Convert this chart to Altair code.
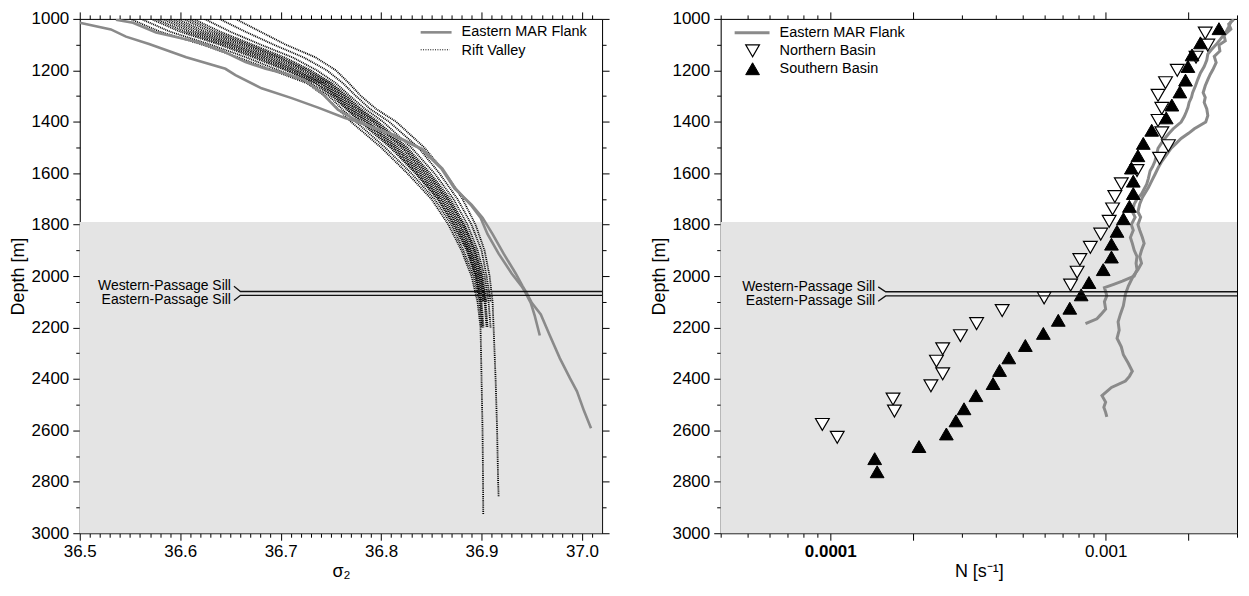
import json
import altair as alt
import pandas as pd

FONT = "Liberation Sans"
GRAY = "#8a8a8a"
SHADE = "#e4e4e4"

# ---------------- axes / ranges ----------------
depth_domain = [1000, 3000]
sigma_domain = [36.5, 37.02]
n_domain = [4e-5, 3e-3]
shade_top = 1790

depth_ticks = list(range(1000, 3001, 100))
sigma_major = [36.5, 36.6, 36.7, 36.8, 36.9, 37.0]
sigma_ticks = [round(36.5 + i * 0.01, 2) for i in range(52)]
n_ticks = [4e-5, 5e-5, 6e-5, 7e-5, 8e-5, 9e-5,
           1e-4, 2e-4, 3e-4, 4e-4, 5e-4, 6e-4, 7e-4, 8e-4, 9e-4,
           1e-3, 2e-3, 3e-3]
n_long = [0.0001, 0.0002, 0.001, 0.002]

# ---------------- left panel: sigma2 ----------------
flank_long_sigma = [36.500, 36.531, 36.546, 36.569, 36.606, 36.645, 36.655, 36.681, 36.711, 36.738,
                    36.764, 36.774, 36.790, 36.810, 36.840, 36.860, 36.873, 36.890, 36.901, 36.911,
                    36.922, 36.934, 36.941, 36.945, 36.950, 36.959, 36.968, 36.978, 36.988, 36.995,
                    37.002, 37.009]
flank_long_depth = [1015, 1041, 1069, 1098, 1149, 1194, 1219, 1270, 1308, 1346,
                    1385, 1397, 1420, 1448, 1506, 1582, 1659, 1722, 1773, 1837,
                    1913, 1990, 2040, 2066, 2104, 2149, 2231, 2320, 2397, 2448,
                    2524, 2592]
flank_short_sigma = [36.536, 36.553, 36.576, 36.599, 36.619, 36.632, 36.645, 36.665, 36.685, 36.705,
                     36.724, 36.741, 36.757, 36.771, 36.776, 36.791, 36.811, 36.841, 36.861, 36.874,
                     36.889, 36.899, 36.906, 36.917, 36.930, 36.940, 36.944, 36.949, 36.953, 36.958]
flank_short_depth = [1003, 1015, 1053, 1073, 1092, 1111, 1130, 1168, 1194, 1213,
                     1238, 1289, 1353, 1385, 1397, 1420, 1448, 1506, 1582, 1659,
                     1722, 1773, 1837, 1913, 1990, 2040, 2066, 2104, 2155, 2231]

rift_depth = [1000, 1050, 1100, 1150, 1200, 1250, 1300, 1350, 1400, 1500,
              1600, 1700, 1800, 1900, 2000, 2100, 2200]
rift_profiles = {
    "p0": [36.550, 36.580, 36.622, 36.658, 36.692, 36.726, 36.744, 36.757, 36.770, 36.800,
           36.826, 36.850, 36.867, 36.880, 36.890, 36.896, 36.899],
    "p1": [36.561, 36.590, 36.630, 36.666, 36.698, 36.730, 36.748, 36.761, 36.775, 36.804,
           36.830, 36.853, 36.870, 36.882, 36.892, 36.898, 36.900],
    "p2": [36.571, 36.600, 36.639, 36.673, 36.705, 36.734, 36.751, 36.765, 36.779, 36.809,
           36.834, 36.856, 36.872, 36.885, 36.894, 36.899],
    "p2b": [36.576, 36.605, 36.643, 36.677, 36.708, 36.736, 36.753, 36.766, 36.781, 36.811,
            36.835, 36.857, 36.873, 36.886, 36.894, 36.899, 36.901],
    "p3": [36.582, 36.610, 36.647, 36.681, 36.711, 36.739, 36.755, 36.768, 36.784, 36.813,
           36.837, 36.859, 36.875, 36.887, 36.895, 36.900, 36.902],
    "p3b": [36.587, 36.615, 36.651, 36.685, 36.714, 36.741, 36.756, 36.770, 36.786, 36.815,
            36.839, 36.860, 36.876, 36.888, 36.896, 36.901],
    "p4": [36.592, 36.620, 36.655, 36.689, 36.717, 36.743, 36.758, 36.772, 36.788, 36.817,
           36.841, 36.862, 36.878, 36.889, 36.897, 36.902],
    "p4b": [36.597, 36.625, 36.660, 36.693, 36.721, 36.745, 36.760, 36.774, 36.791, 36.820,
            36.843, 36.864, 36.879, 36.890, 36.898, 36.903, 36.905],
    "p5": [36.603, 36.630, 36.664, 36.697, 36.724, 36.747, 36.762, 36.776, 36.793, 36.822,
           36.845, 36.866, 36.881, 36.892, 36.899, 36.904, 36.906],
    "p5b": [36.608, 36.635, 36.668, 36.700, 36.727, 36.749, 36.764, 36.778, 36.795, 36.824,
            36.847, 36.867, 36.882, 36.893, 36.900, 36.904],
    "p6": [36.613, 36.640, 36.672, 36.704, 36.730, 36.751, 36.766, 36.780, 36.797, 36.826,
           36.849, 36.869, 36.883, 36.894, 36.901, 36.905],
    "p7": [36.624, 36.650, 36.680, 36.712, 36.736, 36.755, 36.769, 36.784, 36.802, 36.830,
           36.853, 36.872, 36.886, 36.896, 36.903, 36.907, 36.909],
    "p8": [36.639, 36.665, 36.693, 36.723, 36.746, 36.762, 36.775, 36.789, 36.808, 36.837,
           36.858, 36.876, 36.890, 36.900, 36.905, 36.909],
    "p9": [36.655, 36.680, 36.705, 36.735, 36.755, 36.768, 36.780, 36.795, 36.815, 36.843,
           36.864, 36.881, 36.894, 36.903, 36.908, 36.911, 36.912],
}
rift_tails = {
    "p0": ([2400, 2600, 2800, 2927], [36.900, 36.901, 36.9015, 36.9017]),
    "p9": ([2400, 2600, 2800, 2858], [36.914, 36.9155, 36.9165, 36.917]),
}

# ---------------- right panel: N ----------------
flank1_depth = [1008, 1030, 1050, 1070, 1100, 1120, 1137, 1160, 1185, 1210,
                1236, 1260, 1287, 1305, 1325, 1345, 1363, 1380, 1401, 1427,
                1445, 1465, 1485, 1503, 1530, 1554, 1575, 1592, 1620, 1643,
                1681, 1700, 1720, 1750, 1771, 1800, 1822, 1850, 1873, 1900,
                1924, 1950, 1975, 2000, 2020, 2032, 2045, 2060, 2077, 2100,
                2128, 2150, 2166, 2185]
flank1_n = [2.86e-3, 2.80e-3, 2.74e-3, 2.65e-3, 2.52e-3, 2.42e-3, 2.35e-3, 2.33e-3, 2.28e-3, 2.21e-3,
            2.16e-3, 2.12e-3, 2.07e-3, 2.05e-3, 2.01e-3, 1.99e-3, 1.96e-3, 1.93e-3, 1.88e-3, 1.76e-3,
            1.70e-3, 1.64e-3, 1.59e-3, 1.55e-3, 1.53e-3, 1.51e-3, 1.48e-3, 1.45e-3, 1.43e-3, 1.41e-3,
            1.35e-3, 1.30e-3, 1.27e-3, 1.25e-3, 1.28e-3, 1.24e-3, 1.26e-3, 1.23e-3, 1.25e-3, 1.27e-3,
            1.30e-3, 1.29e-3, 1.30e-3, 1.27e-3, 1.15e-3, 1.07e-3, 9.9e-4, 1.00e-3, 1.01e-3, 9.9e-4,
            1.00e-3, 9.6e-4, 9.3e-4, 8.45e-4]
flank2_depth = [1002, 1020, 1040, 1064, 1085, 1102, 1125, 1146, 1170, 1198,
                1215, 1236, 1260, 1287, 1305, 1325, 1350, 1376, 1401, 1427,
                1445, 1465, 1485, 1503, 1530, 1554, 1580, 1605, 1630, 1656,
                1694, 1720, 1750, 1771, 1800, 1822, 1850, 1873, 1900, 1924,
                1950, 1975, 2000, 2038, 2070, 2115, 2150, 2178, 2210, 2242,
                2275, 2306, 2340, 2370, 2390, 2408, 2433, 2465, 2490, 2510,
                2530, 2548]
flank2_n = [2.92e-3, 2.80e-3, 2.85e-3, 2.69e-3, 2.72e-3, 2.58e-3, 2.60e-3, 2.48e-3, 2.52e-3, 2.45e-3,
            2.40e-3, 2.35e-3, 2.30e-3, 2.26e-3, 2.30e-3, 2.28e-3, 2.33e-3, 2.35e-3, 2.31e-3, 2.10e-3,
            2.00e-3, 1.88e-3, 1.80e-3, 1.73e-3, 1.66e-3, 1.60e-3, 1.55e-3, 1.51e-3, 1.47e-3, 1.43e-3,
            1.36e-3, 1.33e-3, 1.31e-3, 1.34e-3, 1.31e-3, 1.33e-3, 1.36e-3, 1.38e-3, 1.35e-3, 1.33e-3,
            1.35e-3, 1.31e-3, 1.26e-3, 1.21e-3, 1.18e-3, 1.16e-3, 1.13e-3, 1.11e-3, 1.12e-3, 1.10e-3,
            1.14e-3, 1.16e-3, 1.21e-3, 1.25e-3, 1.22e-3, 1.18e-3, 1.05e-3, 9.7e-4, 1.00e-3, 9.85e-4,
            1.00e-3, 1.01e-3]

north_n = [2.30e-3, 2.35e-3, 2.13e-3, 1.82e-3, 1.65e-3, 1.55e-3, 1.60e-3, 1.55e-3, 1.60e-3, 1.69e-3,
           1.57e-3, 1.30e-3, 1.14e-3, 1.08e-3, 1.06e-3, 1.03e-3, 9.6e-4, 8.8e-4, 8.06e-4, 7.88e-4,
           7.46e-4, 5.98e-4, 4.21e-4, 3.40e-4, 2.97e-4, 2.56e-4, 2.43e-4, 2.56e-4, 2.32e-4, 1.69e-4,
           1.71e-4, 9.36e-5, 1.06e-4]
north_depth = [1055, 1102, 1149, 1200, 1248, 1297, 1348, 1395, 1443, 1493,
               1542, 1590, 1641, 1691, 1739, 1787, 1837, 1888, 1936, 1985,
               2035, 2085, 2134, 2185, 2232, 2283, 2331, 2380, 2427, 2478,
               2525, 2577, 2627]
south_n = [2.58e-3, 2.21e-3, 2.06e-3, 1.99e-3, 1.95e-3, 1.86e-3, 1.74e-3, 1.66e-3, 1.47e-3, 1.37e-3,
           1.31e-3, 1.24e-3, 1.26e-3, 1.26e-3, 1.22e-3, 1.16e-3, 1.10e-3, 1.05e-3, 1.05e-3, 9.8e-4,
           8.7e-4, 8.15e-4, 7.41e-4, 6.73e-4, 5.94e-4, 5.11e-4, 4.45e-4, 4.12e-4, 3.90e-4, 3.38e-4,
           3.06e-4, 2.86e-4, 2.64e-4, 2.10e-4, 1.45e-4, 1.48e-4]
south_depth = [1038, 1093, 1140, 1185, 1238, 1284, 1335, 1385, 1433, 1484,
               1532, 1580, 1631, 1679, 1729, 1777, 1826, 1876, 1926, 1975,
               2025, 2073, 2125, 2172, 2223, 2270, 2318, 2367, 2418, 2465,
               2516, 2563, 2614, 2663, 2710, 2761]

# sills
sill_names = ["Western-Passage Sill", "Eastern-Passage Sill"]
sill_depth_left = [2060, 2075]
sill_label_depth_left = [2040, 2095]
sill_x_left = [36.6535, 36.660]          # label anchor, elbow
sill_depth_right = [2061, 2077]
sill_label_depth_right = [2042, 2098]
sill_x_right = [1.493e-4, 1.589e-4]

# ---------------- build tables ----------------
def profile_df(xs, ds, name):
    return pd.DataFrame({"x": xs, "depth": ds, "profile": name, "idx": list(range(len(xs)))})

flank_left_df = pd.concat([profile_df(flank_long_sigma, flank_long_depth, "a"),
                           profile_df(flank_short_sigma, flank_short_depth, "b")])
rift_parts = []
for name, sig in rift_profiles.items():
    ds = rift_depth[:len(sig)]
    xs = list(sig)
    if name in rift_tails:
        ds = ds + rift_tails[name][0]
        xs = xs + rift_tails[name][1]
    rift_parts.append(profile_df(xs, ds, name))
rift_df = pd.concat(rift_parts)

flank_right_df = pd.concat([profile_df(flank1_n, flank1_depth, "a"),
                            profile_df(flank2_n, flank2_depth, "b")])
north_df = pd.DataFrame({"x": north_n, "depth": north_depth})
south_df = pd.DataFrame({"x": south_n, "depth": south_depth})


def sill_tables(xs, sill_d, label_d, xmax):
    rows = []
    for i, nm in enumerate(sill_names):
        pts = [(xs[0], label_d[i]), (xs[1], sill_d[i]), (xmax, sill_d[i])]
        for j, (xx, dd) in enumerate(pts):
            rows.append({"x": xx, "depth": dd, "sill": nm, "idx": j})
    lab = pd.DataFrame({"x": [xs[0]] * 2, "depth": label_d, "label": sill_names})
    return pd.DataFrame(rows), lab


sill_left_df, sill_left_lab = sill_tables(sill_x_left, sill_depth_left, sill_label_depth_left, sigma_domain[1])
sill_right_df, sill_right_lab = sill_tables(sill_x_right, sill_depth_right, sill_label_depth_right, n_domain[1])

# ---------------- scales & axes ----------------
yscale = alt.Scale(domain=depth_domain, reverse=True, nice=False, zero=False)
sscale = alt.Scale(domain=sigma_domain, nice=False, zero=False)
nscale = alt.Scale(type="log", domain=n_domain, nice=False)

common_axis = dict(grid=False, domainColor="black", tickColor="black", domainWidth=1, tickWidth=1,
                   labelColor="black", labelFont=FONT, labelFontSize=17, labelOverlap=False,
                   labelFlush=False, labelBound=False, titleFont=FONT, titleFontSize=18,
                   titleFontWeight="normal", titleColor="black")

depth_major_test = "datum.value % 200 == 0"
sigma_major_test = "indexof(%s, datum.value) >= 0" % json.dumps(sigma_major)
n_long_test = "indexof(%s, datum.value) >= 0" % json.dumps(n_long)


def tick_cond(test, big=7, small=4):
    return {"condition": {"test": test, "value": big}, "value": small}


def y_axis(orient, labels, title=None, big=7, small=4):
    kw = dict(common_axis)
    kw.update(orient=orient, values=depth_ticks, tickSize=tick_cond(depth_major_test, big, small))
    if labels:
        kw.update(labelExpr="datum.value % 200 == 0 ? format(datum.value, 'd') : ''",
                  labelPadding=4, title=title, titlePadding=4)
    else:
        kw.update(labels=False, title=None)
    return alt.Axis(**kw)


def sigma_axis(orient, labels):
    kw = dict(common_axis)
    kw.update(orient=orient, values=sigma_ticks, tickSize=tick_cond(sigma_major_test))
    if labels:
        kw.update(labelExpr="%s ? format(datum.value, '.1f') : ''" % sigma_major_test,
                  labelPadding=3, title="σ₂", titlePadding=3)
    else:
        kw.update(labels=False, title=None)
    return alt.Axis(**kw)


def n_axis(orient, labels):
    kw = dict(common_axis)
    kw.update(orient=orient, values=n_ticks, tickSize=tick_cond(n_long_test))
    if labels:
        kw.update(labelExpr="datum.value == 0.0001 ? '0.0001' : (datum.value == 0.001 ? '0.001' : '')",
                  labelFontWeight={"condition": {"test": "datum.value == 0.0001", "value": "bold"},
                                   "value": "normal"},
                  labelPadding=3, title="N [s⁻¹]", titlePadding=3)
    else:
        kw.update(labels=False, title=None)
    return alt.Axis(**kw)


def legend_line(x0, x1, y, **mk):
    return alt.Chart(pd.DataFrame({"k": [0]})).mark_rule(**mk).encode(
        x=alt.value(x0), x2=alt.value(x1), y=alt.value(y))


def legend_text(x, y, text):
    return alt.Chart(pd.DataFrame({"label": [text]})).mark_text(
        align="left", baseline="middle", font=FONT, fontSize=14.5, color="black").encode(
        x=alt.value(x), y=alt.value(y), text="label:N")


def legend_symbol(x, y, **mk):
    return alt.Chart(pd.DataFrame({"k": [0]})).mark_point(**mk).encode(x=alt.value(x), y=alt.value(y))


def panel(xscale, xdom, x_main_axis, x_top_axis, right_axis, lines_layers, sill_df, sill_lab, legend_layers,
          width, height):
    shade = alt.Chart(pd.DataFrame({"x0": [xdom[0]], "x1": [xdom[1]], "d0": [shade_top], "d1": [depth_domain[1]]})
                      ).mark_rect(color=SHADE).encode(
        x=alt.X("x0:Q", scale=xscale, axis=x_top_axis),
        x2="x1:Q",
        y=alt.Y("d0:Q", scale=yscale, axis=right_axis),
        y2="d1:Q")
    sill_lines = alt.Chart(sill_df).mark_line(color="#111111", strokeWidth=1.3).encode(
        x=alt.X("x:Q", scale=xscale, axis=None),
        y=alt.Y("depth:Q", scale=yscale, axis=None),
        detail="sill:N", order="idx:Q")
    sill_text = alt.Chart(sill_lab).mark_text(align="right", baseline="middle", dx=-3, font=FONT,
                                              fontSize=14, color="black").encode(
        x=alt.X("x:Q", scale=xscale, axis=None),
        y=alt.Y("depth:Q", scale=yscale, axis=None),
        text="label:N")
    layers = [shade] + lines_layers(x_main_axis) + [sill_lines, sill_text] + legend_layers
    return alt.layer(*layers).properties(width=width, height=height)


def left_lines(xaxis):
    rift = alt.Chart(rift_df).mark_line(color="black", strokeWidth=1.8, strokeDash=[1, 0.9], clip=True).encode(
        x=alt.X("x:Q", scale=sscale, axis=xaxis),
        y=alt.Y("depth:Q", scale=yscale, axis=y_axis("left", True, "Depth [m]")),
        detail="profile:N", order="idx:Q")
    flank = alt.Chart(flank_left_df).mark_line(color=GRAY, strokeWidth=2.6, clip=True).encode(
        x=alt.X("x:Q", scale=sscale, axis=None),
        y=alt.Y("depth:Q", scale=yscale, axis=None),
        detail="profile:N", order="idx:Q")
    return [rift, flank]


left_legend = [
    legend_line(342, 373, 13.5, color=GRAY, strokeWidth=2.6),
    legend_text(383, 13.5, "Eastern MAR Flank"),
    legend_line(342, 371, 31, color="black", strokeWidth=1, strokeDash=[1, 1.4]),
    legend_text(383, 32, "Rift Valley"),
]

PH = 516
left = panel(sscale, sigma_domain, sigma_axis("bottom", True), sigma_axis("top", False),
             y_axis("right", False), left_lines, sill_left_df, sill_left_lab, left_legend, 524, PH)


def right_lines(xaxis):
    flank = alt.Chart(flank_right_df).mark_line(color=GRAY, strokeWidth=3, clip=True).encode(
        x=alt.X("x:Q", scale=nscale, axis=xaxis),
        y=alt.Y("depth:Q", scale=yscale, axis=y_axis("left", True, "Depth [m]")),
        detail="profile:N", order="idx:Q")
    north = alt.Chart(north_df).mark_point(shape="triangle-down", filled=True, fill="white", stroke="black",
                                           strokeWidth=1.2, size=190, opacity=1).encode(
        x=alt.X("x:Q", scale=nscale, axis=None),
        y=alt.Y("depth:Q", scale=yscale, axis=None))
    south = alt.Chart(south_df).mark_point(shape="triangle-up", filled=True, fill="black", stroke="black",
                                           strokeWidth=1, size=190, opacity=1).encode(
        x=alt.X("x:Q", scale=nscale, axis=None),
        y=alt.Y("depth:Q", scale=yscale, axis=None))
    return [flank, north, south]


right_legend = [
    legend_line(14, 49, 14, color=GRAY, strokeWidth=3),
    legend_text(59, 14.3, "Eastern MAR Flank"),
    legend_symbol(32, 32, shape="triangle-down", filled=True, fill="white", stroke="black",
                  strokeWidth=1.2, size=190, opacity=1),
    legend_text(59, 32.3, "Northern Basin"),
    legend_symbol(32, 50, shape="triangle-up", filled=True, fill="black", stroke="black",
                  strokeWidth=1, size=190, opacity=1),
    legend_text(59, 50, "Southern Basin"),
]

right = panel(nscale, n_domain, n_axis("bottom", True), n_axis("top", False),
              y_axis("right", False, big=0, small=0), right_lines, sill_right_df, sill_right_lab,
              right_legend, 518, PH)

chart = alt.hconcat(left, right, spacing=39).properties(padding=0).configure_view(stroke=None).configure(
    font=FONT)

chart.save("out.html", embed_options={"renderer": "svg", "actions": False})
